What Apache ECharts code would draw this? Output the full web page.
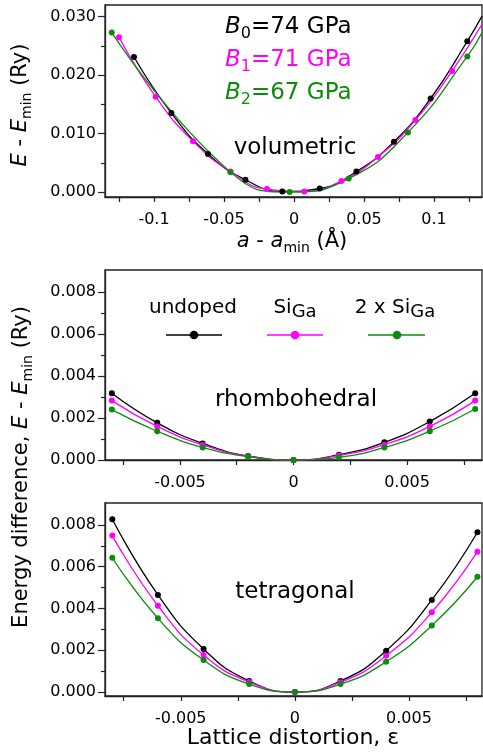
<!DOCTYPE html>
<html><head><meta charset="utf-8">
<script src="https://cdn.jsdelivr.net/npm/echarts@6/dist/echarts.min.js"></script>
<style>html,body{margin:0;padding:0;background:#fff}#c{width:483px;height:756px}</style>
</head><body><div id="c"></div>
<script>
// ---------- data ----------
// volumetric panel (x: a - a_min in Å, y: E - E_min in Ry)
const volXBlack = [-0.1143, -0.0876, -0.0614, -0.0347, -0.0083, 0.0184, 0.0446, 0.0714, 0.0976, 0.1238];
const volYBlack = [0.0231, 0.0135, 0.0065, 0.0021, 0.0001, 0.0006, 0.0035, 0.0086, 0.0160, 0.0258];
const volXMagenta = [-0.1250, -0.0988, -0.0721, -0.0454, -0.0193, 0.0074, 0.0339, 0.0600, 0.0867, 0.1129];
const volYMagenta = [0.0265, 0.0163, 0.0087, 0.0035, 0.0005, 0.0001, 0.0019, 0.0060, 0.0123, 0.0207];
const volXGreen = [-0.1302, -0.0454, -0.0031, 0.0391, 0.0814, 0.1238];
const volYGreen = [0.0273, 0.0034, 0.0000, 0.0023, 0.0102, 0.0232];
// fitted curves leave the frame at the right edge (x, y read at the edge)
const volCurveEndBlack = [0.1343, 0.0301];
const volCurveEndMagenta = [0.1343, 0.0287];
const volCurveEndGreen = [0.1343, 0.0273];

// distortion (epsilon) values for rhombohedral and tetragonal panels
const strain = [-0.008, -0.006, -0.004, -0.002, 0, 0.002, 0.004, 0.006, 0.008];
const rhoUndoped = [0.00318, 0.00177, 0.00079, 0.00019, 0, 0.00025, 0.00084, 0.00183, 0.00318];
const rhoSiGa = [0.00283, 0.00160, 0.00072, 0.00018, 0, 0.00022, 0.00073, 0.00160, 0.00283];
const rho2SiGa = [0.00240, 0.00137, 0.00060, 0.00016, 0, 0.00013, 0.00060, 0.00137, 0.00243];
const tetUndoped = [0.00827, 0.00465, 0.00206, 0.00053, 0, 0.00053, 0.00198, 0.00441, 0.00765];
const tetSiGa = [0.00749, 0.00413, 0.00177, 0.00048, 0, 0.00047, 0.00174, 0.00382, 0.00672];
const tet2SiGa = [0.00643, 0.00353, 0.00153, 0.00038, 0, 0.00038, 0.00145, 0.00318, 0.00552];

// ticks
const volXTicks = [-0.125, -0.1, -0.075, -0.05, -0.025, 0, 0.025, 0.05, 0.075, 0.1, 0.125];
const volXLabels = [-0.1, -0.05, 0, 0.05, 0.1];
const volYMajor = [0, 0.01, 0.02, 0.03];
const volYMinor = [0.005, 0.015, 0.025];
const epsXTicks = [-0.0075, -0.005, -0.0025, 0, 0.0025, 0.005, 0.0075];
const epsXLabels = [-0.005, 0, 0.005];
const eYMajor = [0, 0.002, 0.004, 0.006, 0.008];
const eYMinor = [0.001, 0.003, 0.005, 0.007];

// ---------- style ----------
const BLACK = '#000000', MAGENTA = '#ff00ff', GREEN = '#0b8c0b';
const FRAME = '#222222';
const FONT = 'DejaVu Sans';

const grids = [
  {left: 105, top: 5, width: 377, height: 192},
  {left: 105, top: 270, width: 377, height: 190},
  {left: 105, top: 503, width: 377, height: 193}
].map(g => Object.assign({show: true, borderColor: FRAME, borderWidth: 1.3, backgroundColor: 'transparent'}, g));

function fmtX(v) { return Math.abs(v) < 1e-12 ? '0' : String(parseFloat(v.toFixed(4))); }

function xAxis(gi, min, max, ticks, labels) {
  return {
    type: 'value', gridIndex: gi, min: min, max: max, position: 'bottom',
    axisLine: {show: true, onZero: false, lineStyle: {color: FRAME, width: 1.3}},
    axisTick: {show: true, inside: false, length: 5, customValues: ticks, lineStyle: {color: FRAME, width: 1.2}},
    axisLabel: {customValues: labels, formatter: fmtX, fontFamily: FONT, fontSize: 16, color: '#000', margin: 15},
    splitLine: {show: false}
  };
}
function yAxes(gi, min, max, major, minor) {
  return [{
    type: 'value', gridIndex: gi, min: min, max: max, position: 'left',
    axisLine: {show: true, onZero: false, lineStyle: {color: FRAME, width: 1.3}},
    axisTick: {show: true, inside: false, length: 7, customValues: major, lineStyle: {color: FRAME, width: 1.2}},
    axisLabel: {customValues: major, formatter: v => v.toFixed(3), fontFamily: FONT, fontSize: 16, color: '#000', margin: 9},
    splitLine: {show: false}
  }, {
    type: 'value', gridIndex: gi, min: min, max: max, position: 'left', offset: 0,
    axisLine: {show: false, onZero: false},
    axisTick: {show: true, inside: false, length: 4, customValues: minor, lineStyle: {color: FRAME, width: 1.2}},
    axisLabel: {show: false},
    splitLine: {show: false}
  }];
}

function curve(gi, xs, ys, color, endPoint) {
  const data = xs.map((x, i) => [x, ys[i]]);
  if (endPoint) data.push({value: endPoint, symbolSize: 0});
  return {
    type: 'line', xAxisIndex: gi, yAxisIndex: gi * 2, data: data,
    smooth: 0.5, symbol: 'circle', symbolSize: 6, showSymbol: true,
    lineStyle: {color: color, width: 1.3}, itemStyle: {color: color},
    clip: true, animation: false, silent: true
  };
}

const series = [
  curve(0, volXBlack, volYBlack, BLACK, volCurveEndBlack),
  curve(0, volXMagenta, volYMagenta, MAGENTA, volCurveEndMagenta),
  curve(0, volXGreen, volYGreen, GREEN, volCurveEndGreen),
  curve(1, strain, rhoUndoped, BLACK),
  curve(1, strain, rhoSiGa, MAGENTA),
  curve(1, strain, rho2SiGa, GREEN),
  curve(2, strain, tetUndoped, BLACK),
  curve(2, strain, tetSiGa, MAGENTA),
  curve(2, strain, tet2SiGa, GREEN)
];

// ---------- text ----------
function richBase(size, color) {
  return {
    n: {fontFamily: FONT, fontSize: size, lineHeight: size + 6, fill: color, color: color},
    i: {fontFamily: FONT, fontSize: size, fontStyle: 'italic', lineHeight: size + 6, fill: color, color: color},
    s: {fontFamily: FONT, fontSize: Math.round(size * 0.68), lineHeight: Math.round(size * 0.68), verticalAlign: 'bottom', fill: color, color: color}
  };
}
function txt(x, y, text, size, color, opts) {
  opts = opts || {};
  return {
    type: 'text', x: x, y: y, rotation: opts.rotation || 0, silent: true,
    style: {
      text: text, rich: opts.rich || null, fill: color, font: size + 'px "' + FONT + '"',
      fontFamily: FONT, fontSize: size,
      align: opts.align || 'center', verticalAlign: 'middle',
      textAlign: opts.align || 'center', textVerticalAlign: 'middle'
    }
  };
}

const graphic = [
  // annotations in volumetric panel
  txt(225, 27, '{i|B}{s|0}{n|=74 GPa}', 23, BLACK, {rich: richBase(23, BLACK), align: 'left'}),
  txt(225, 60, '{i|B}{s|1}{n|=71 GPa}', 23, MAGENTA, {rich: richBase(23, MAGENTA), align: 'left'}),
  txt(225, 93, '{i|B}{s|2}{n|=67 GPa}', 23, GREEN, {rich: richBase(23, GREEN), align: 'left'}),
  txt(295, 148, 'volumetric', 23, BLACK),
  txt(296, 400, 'rhombohedral', 23, BLACK),
  txt(295, 592, 'tetragonal', 23, BLACK),
  // axis titles
  txt(21, 105, '{i|E}{n| - }{i|E}{s|min}{n| (Ry)}', 21, BLACK, {rich: richBase(21, BLACK), rotation: Math.PI / 2}),
  txt(22, 467, '{n|Energy difference, }{i|E}{n| - }{i|E}{s|min}{n| (Ry)}', 21, BLACK, {rich: richBase(21, BLACK), rotation: Math.PI / 2}),
  txt(292, 242, '{i|a}{n| - }{i|a}{s|min}{n| (Å)}', 21, BLACK, {rich: richBase(21, BLACK)}),
  txt(293, 738, 'Lattice distortion, ε', 22, BLACK),
  // legend (middle panel)
  txt(193, 308, 'undoped', 20, BLACK),
  txt(295, 308, '{n|Si}{s|Ga}', 20, BLACK, {rich: (function(){const r = richBase(20, BLACK); r.s.fontSize = 18; r.s.lineHeight = 18; return r;})()}),
  txt(395, 308, '{n|2 x Si}{s|Ga}', 20, BLACK, {rich: (function(){const r = richBase(20, BLACK); r.s.fontSize = 18; r.s.lineHeight = 18; return r;})()}),
  {type: 'line', silent: true, shape: {x1: 166, y1: 335, x2: 222, y2: 335}, style: {stroke: BLACK, lineWidth: 1.6}},
  {type: 'circle', silent: true, shape: {cx: 194, cy: 335, r: 4.3}, style: {fill: BLACK}},
  {type: 'line', silent: true, shape: {x1: 267, y1: 335, x2: 323, y2: 335}, style: {stroke: MAGENTA, lineWidth: 1.6}},
  {type: 'circle', silent: true, shape: {cx: 295, cy: 335, r: 4.3}, style: {fill: MAGENTA}},
  {type: 'line', silent: true, shape: {x1: 368, y1: 335, x2: 425, y2: 335}, style: {stroke: GREEN, lineWidth: 1.6}},
  {type: 'circle', silent: true, shape: {cx: 397, cy: 335, r: 4.3}, style: {fill: GREEN}}
];

const option = {
  animation: false,
  backgroundColor: '#ffffff',
  grid: grids,
  xAxis: [
    xAxis(0, -0.135, 0.1343, volXTicks, volXLabels),
    xAxis(1, -0.0083, 0.0083, epsXTicks, epsXLabels),
    xAxis(2, -0.00832, 0.0082, epsXTicks, epsXLabels)
  ],
  yAxis: [].concat(
    yAxes(0, -0.000856, 0.0320, volYMajor, volYMinor),
    yAxes(1, 0, 0.00905, eYMajor, eYMinor),
    yAxes(2, -0.00019, 0.00905, eYMajor, eYMinor)
  ),
  series: series,
  graphic: graphic
};
const chart = echarts.init(document.getElementById('c'), null, {renderer: 'canvas'});
chart.setOption(option);
</script>
</body></html>
